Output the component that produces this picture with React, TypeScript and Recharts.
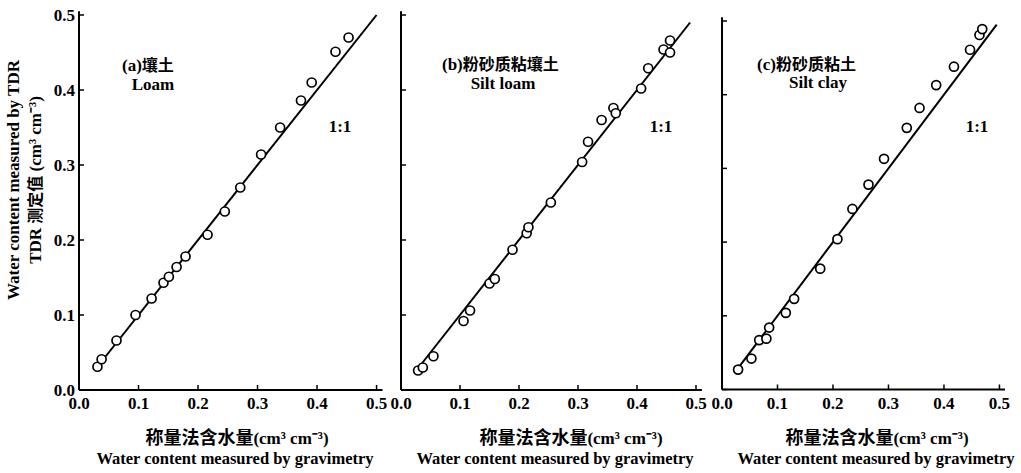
import { ScatterChart, Scatter, XAxis, YAxis } from "recharts";

// gravimetry (x) vs TDR (y), cm3 cm-3
const loamGrav = [0.031, 0.038, 0.063, 0.095, 0.122, 0.142, 0.151, 0.164, 0.179, 0.216, 0.245, 0.271, 0.306, 0.338, 0.373, 0.391, 0.431, 0.453];
const loamTdr = [0.031, 0.041, 0.066, 0.1, 0.122, 0.143, 0.151, 0.164, 0.178, 0.207, 0.238, 0.27, 0.314, 0.35, 0.386, 0.41, 0.451, 0.47];

const siltLoamGrav = [0.029, 0.037, 0.055, 0.106, 0.117, 0.15, 0.159, 0.189, 0.213, 0.216, 0.254, 0.307, 0.317, 0.34, 0.36, 0.364, 0.407, 0.419, 0.445, 0.456, 0.456];
const siltLoamTdr = [0.026, 0.03, 0.045, 0.092, 0.106, 0.142, 0.148, 0.187, 0.209, 0.217, 0.25, 0.304, 0.331, 0.36, 0.376, 0.369, 0.402, 0.429, 0.454, 0.466, 0.45];

const siltClayGrav = [0.029, 0.053, 0.067, 0.08, 0.085, 0.115, 0.13, 0.177, 0.208, 0.235, 0.264, 0.292, 0.333, 0.356, 0.386, 0.418, 0.447, 0.464, 0.469];
const siltClayTdr = [0.027, 0.042, 0.067, 0.069, 0.084, 0.104, 0.123, 0.164, 0.204, 0.245, 0.278, 0.313, 0.355, 0.382, 0.413, 0.438, 0.461, 0.481, 0.489];

// ends of the 1:1 line in each panel
const lineA = [0.035, 0.5];
const lineB = [0.03, 0.49];
const lineC = [0.03, 0.495];

const ticks = [0, 0.1, 0.2, 0.3, 0.4, 0.5];

const SERIF = '"Liberation Serif", "Times New Roman", serif';
const CJK = '"Noto Sans CJK SC", sans-serif';

const zip = (xs: number[], ys: number[]) => xs.map((x, i) => ({ x, y: ys[i] }));

const XTick = (props: any) => {
  const { x, y, payload } = props;
  return (
    <g>
      <line x1={x} y1={y} x2={x} y2={y - 5} stroke="#000" strokeWidth={1.5} />
      <text x={x} y={y + 19} textAnchor="middle" fontFamily={SERIF} fontWeight="bold" fontSize={17} fill="#000">
        {Number(payload.value).toFixed(1)}
      </text>
    </g>
  );
};

const makeYTick = (showLabel: boolean) => (props: any) => {
  const { x, y, payload } = props;
  return (
    <g>
      <line x1={x} y1={y} x2={x + 5} y2={y} stroke="#000" strokeWidth={1.5} />
      {showLabel && (
        <text x={x - 4} y={y + 6} textAnchor="end" fontFamily={SERIF} fontWeight="bold" fontSize={17} fill="#000">
          {Number(payload.value).toFixed(1)}
        </text>
      )}
    </g>
  );
};

const Ring = (props: any) => (
  <circle cx={props.cx} cy={props.cy} r={4.5} fill="#fff" stroke="#000" strokeWidth={1.7} />
);

type PanelProps = {
  left: number;
  width: number;
  margin: { top: number; right: number; left: number; bottom: number };
  yAxisWidth: number;
  showY: boolean;
  grav: number[];
  tdr: number[];
  line: number[];
};

function Panel({ left, width, margin, yAxisWidth, showY, grav, tdr, line }: PanelProps) {
  const pts = zip(grav, tdr);
  const diag = zip(line, line);
  return (
    <div style={{ position: "absolute", left, top: 0 }}>
      <ScatterChart width={width} height={473} margin={margin}>
        <XAxis
          type="number"
          dataKey="x"
          domain={[0, 0.51]}
          ticks={ticks}
          tickSize={0}
          tickMargin={0}
          tick={XTick}
          height={30}
          axisLine={{ stroke: "#000", strokeWidth: 2 }}
          allowDataOverflow
        />
        <YAxis
          type="number"
          dataKey="y"
          domain={[0, 0.505]}
          ticks={ticks}
          tickSize={0}
          tickMargin={0}
          tick={makeYTick(showY)}
          width={yAxisWidth}
          axisLine={{ stroke: "#000", strokeWidth: 2 }}
          allowDataOverflow
        />
        <Scatter
          data={diag}
          line={{ stroke: "#000", strokeWidth: 2 }}
          shape={() => <g />}
          isAnimationActive={false}
        />
        <Scatter data={pts} shape={Ring} isAnimationActive={false} />
      </ScatterChart>
    </div>
  );
}

const xTitleCn = "称量法含水量(cm³ cm⁻³)";
const xTitleEn = "Water content measured by gravimetry";

export default function App() {
  return (
    <div style={{ position: "absolute", left: 0, top: 0, width: 1021, height: 473, background: "#fff" }}>
      <Panel
        left={0}
        width={395}
        margin={{ top: 11.25, right: 12.5, left: 19, bottom: 53 }}
        yAxisWidth={60}
        showY
        grav={loamGrav}
        tdr={loamTdr}
        line={lineA}
      />
      <Panel
        left={385}
        width={325}
        margin={{ top: 11.25, right: 8.1, left: 6, bottom: 53 }}
        yAxisWidth={10}
        showY={false}
        grav={siltLoamGrav}
        tdr={siltLoamTdr}
        line={lineB}
      />
      <Panel
        left={710}
        width={311}
        margin={{ top: 17.3, right: 16, left: 2, bottom: 53.5 }}
        yAxisWidth={10}
        showY={false}
        grav={siltClayGrav}
        tdr={siltClayTdr}
        line={lineC}
      />
      <svg width={1021} height={473} style={{ position: "absolute", left: 0, top: 0, pointerEvents: "none" }}>
        <g fontWeight="bold" fill="#000">
          <text transform="translate(19,180) rotate(-90)" textAnchor="middle" fontFamily={SERIF} fontSize={17}>
            Water content measured by TDR
          </text>
          <text transform="translate(41,180) rotate(-90)" textAnchor="middle" fontSize={17}>
            <tspan fontFamily={SERIF}>TDR </tspan>
            <tspan fontFamily={CJK} fontSize={16}>测定值</tspan>
            <tspan fontFamily={SERIF}> (cm³ cm⁻³)</tspan>
          </text>

          <text x={122} y={71} fontSize={17}>
            <tspan fontFamily={SERIF}>(a)</tspan>
            <tspan fontFamily={CJK} fontSize={16}>壤土</tspan>
          </text>
          <text x={153} y={90} textAnchor="middle" fontFamily={SERIF} fontSize={17}>Loam</text>
          <text x={340} y={132} textAnchor="middle" fontFamily={SERIF} fontSize={17}>1:1</text>

          <text x={442} y={70} fontSize={17}>
            <tspan fontFamily={SERIF}>(b)</tspan>
            <tspan fontFamily={CJK} fontSize={16}>粉砂质粘壤土</tspan>
          </text>
          <text x={503} y={89} textAnchor="middle" fontFamily={SERIF} fontSize={17}>Silt loam</text>
          <text x={661} y={132} textAnchor="middle" fontFamily={SERIF} fontSize={17}>1:1</text>

          <text x={757} y={70} fontSize={17}>
            <tspan fontFamily={SERIF}>(c)</tspan>
            <tspan fontFamily={CJK} fontSize={16}>粉砂质粘土</tspan>
          </text>
          <text x={818} y={88} textAnchor="middle" fontFamily={SERIF} fontSize={17}>Silt clay</text>
          <text x={977} y={132} textAnchor="middle" fontFamily={SERIF} fontSize={17}>1:1</text>

          {[237, 571, 877].map((cx) => (
            <text key={`cn-${cx}`} x={cx} y={444} textAnchor="middle" fontSize={17}>
              <tspan fontFamily={CJK} fontSize={18}>{xTitleCn.slice(0, 6)}</tspan>
              <tspan fontFamily={SERIF}>{xTitleCn.slice(6)}</tspan>
            </text>
          ))}
          {[235, 555, 876].map((cx) => (
            <text key={`en-${cx}`} x={cx} y={464} textAnchor="middle" fontFamily={SERIF} fontSize={16.5}>
              {xTitleEn}
            </text>
          ))}
        </g>
      </svg>
    </div>
  );
}
